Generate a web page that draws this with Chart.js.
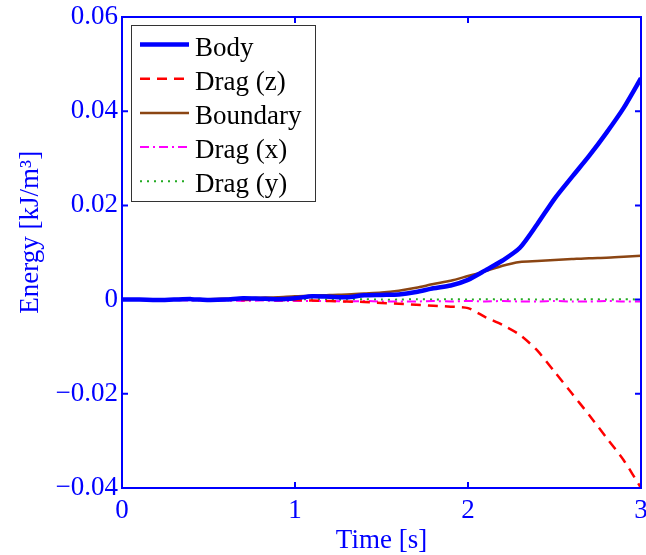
<!DOCTYPE html>
<html>
<head>
<meta charset="utf-8">
<script src="https://cdn.jsdelivr.net/npm/chart.js@4"></script>
<style>
  html, body { margin: 0; padding: 0; background: #fff; }
  #wrap { width: 646px; height: 555px; }
</style>
</head>
<body>
<div id="wrap"><canvas id="energyChart" width="646" height="555"></canvas></div>
<script>
// time samples [s]
const time = [0, 0.1, 0.2, 0.3, 0.4, 0.5, 0.6, 0.7, 0.8, 0.9, 1.0,
              1.1, 1.2, 1.3, 1.4, 1.5, 1.6, 1.7, 1.8, 1.9, 2.0,
              2.1, 2.2, 2.3, 2.4, 2.5, 2.6, 2.7, 2.8, 2.9, 3.0];

// energies [kJ/m^3]
const body = [0, 0, -0.0001, 0, 0.0001, -0.0001, 0, 0.0003, 0.0002, 0.0001, 0.0003,
              0.0007, 0.0006, 0.0005, 0.0009, 0.0010, 0.0011, 0.0016, 0.0024, 0.0030, 0.0042,
              0.0062, 0.0083, 0.0110, 0.0160, 0.0214, 0.0260, 0.0305, 0.0354, 0.0407, 0.0470];
const dragZ = [0, 0, 0, 0, 0, 0, 0, -0.0001, 0, -0.0001, -0.0001,
               -0.0002, -0.0003, -0.0004, -0.0005, -0.0007, -0.0009, -0.0011, -0.0013, -0.0015, -0.0018,
               -0.0037, -0.0054, -0.0075, -0.0108, -0.0153, -0.0199, -0.0245, -0.0293, -0.0341, -0.0400];
const boundary = [0, 0, 0, 0.0001, 0.0001, 0.0001, 0.0002, 0.0003, 0.0004, 0.0005, 0.0007,
                  0.0008, 0.0010, 0.0011, 0.0013, 0.0015, 0.0019, 0.0025, 0.0033, 0.0040, 0.0050,
                  0.0060, 0.0072, 0.0080, 0.0082, 0.0084, 0.0086, 0.0088, 0.0089, 0.0091, 0.0093];
const dragX = [-0.0001, -0.0001, -0.0002, -0.0001, -0.0002, -0.0002, -0.0002, -0.0003, -0.0002, -0.0003, -0.0003,
               -0.0003, -0.0003, -0.0004, -0.0003, -0.0004, -0.0004, -0.0004, -0.0003, -0.0004, -0.0003,
               -0.0004, -0.0003, -0.0004, -0.0004, -0.0003, -0.0004, -0.0004, -0.0003, -0.0004, -0.0004];
const dragY = [0, 0, 0, 0, 0, 0.0001, 0, 0, 0.0001, 0, 0,
               0.0001, 0, 0, 0.0001, 0, 0, 0.0001, 0, 0.0001, 0,
               0.0001, 0, 0.0001, 0, 0.0001, 0, 0.0001, 0, 0.0001, 0];

const xTicks = [0, 1, 2, 3];
const yTicks = [-0.04, -0.02, 0, 0.02, 0.04, 0.06];

const SERIF = "'Liberation Serif', 'Times New Roman', serif";
const AXIS_BLUE = '#0000ff';

function pts(ys) {
  return time.map((t, i) => ({ x: t, y: ys[i] }));
}

function fmtY(v) {
  if (Math.abs(v) < 1e-9) return '0';
  return v.toFixed(2).replace('-', '\u2212');
}

// matlab-ish box: frame all round, ticks pointing inwards, boxed legend
const boxPlugin = {
  id: 'boxPlugin',
  afterDraw(chart) {
    const ctx = chart.ctx;
    const a = chart.chartArea;
    const xs = chart.scales.x, ys = chart.scales.y;
    ctx.save();
    ctx.strokeStyle = AXIS_BLUE;
    ctx.lineWidth = 2;
    ctx.strokeRect(a.left, a.top, a.right - a.left, a.bottom - a.top);
    const tl = 6;
    ctx.beginPath();
    xTicks.forEach(v => {
      const px = xs.getPixelForValue(v);
      ctx.moveTo(px, a.bottom); ctx.lineTo(px, a.bottom - tl);
      ctx.moveTo(px, a.top); ctx.lineTo(px, a.top + tl);
    });
    yTicks.forEach(v => {
      const py = ys.getPixelForValue(v);
      ctx.moveTo(a.left, py); ctx.lineTo(a.left + tl, py);
      ctx.moveTo(a.right, py); ctx.lineTo(a.right - tl, py);
    });
    ctx.stroke();

    // legend
    const lx = 131, ly = 25, lw = 184, lh = 176;
    ctx.fillStyle = '#fff';
    ctx.fillRect(lx, ly, lw, lh);
    ctx.strokeStyle = '#333';
    ctx.lineWidth = 1;
    ctx.strokeRect(lx + 0.5, ly + 0.5, lw, lh);
    ctx.font = '27px ' + SERIF;
    ctx.textBaseline = 'alphabetic';
    ctx.textAlign = 'left';
    chart.data.datasets.forEach((ds, i) => {
      const y = 44.5 + i * 34.2;
      ctx.beginPath();
      ctx.strokeStyle = ds.borderColor;
      ctx.lineWidth = ds.borderWidth;
      ctx.setLineDash(ds.borderDash || []);
      ctx.moveTo(140, y);
      ctx.lineTo(189, y);
      ctx.stroke();
      ctx.setLineDash([]);
      ctx.fillStyle = '#000';
      ctx.fillText(ds.label, 195, y + 11);
    });
    ctx.restore();
  }
};

const ctx = document.getElementById('energyChart').getContext('2d');
const chart = new Chart(ctx, {
  type: 'line',
  data: {
    datasets: [
      { label: 'Body', data: pts(body), borderColor: '#0000ff', borderWidth: 4.5 },
      { label: 'Drag (z)', data: pts(dragZ), borderColor: '#ff0000', borderWidth: 2.5, borderDash: [10, 7] },
      { label: 'Boundary', data: pts(boundary), borderColor: '#8b4513', borderWidth: 2.5 },
      { label: 'Drag (x)', data: pts(dragX), borderColor: '#ff00ff', borderWidth: 2, borderDash: [9, 4, 2, 4] },
      { label: 'Drag (y)', data: pts(dragY), borderColor: '#22aa22', borderWidth: 2, borderDash: [2, 5] }
    ]
  },
  options: {
    responsive: false,
    animation: false,
    devicePixelRatio: 1,
    layout: { padding: { top: 17, right: 5, left: 0, bottom: 0 } },
    elements: { point: { radius: 0 }, line: { tension: 0.25, fill: false } },
    plugins: { legend: { display: false }, tooltip: { enabled: false } },
    scales: {
      x: {
        type: 'linear', min: 0, max: 3,
        afterBuildTicks: s => { s.ticks = xTicks.map(v => ({ value: v })); },
        afterFit: s => { s.height = 67; s.paddingLeft = 0; s.paddingRight = 0; },
        grid: { display: false, drawTicks: false },
        border: { display: false },
        ticks: { color: AXIS_BLUE, padding: 7, font: { family: SERIF, size: 27 }, maxRotation: 0,
                 callback: v => String(v) },
        title: { display: true, text: 'Time [s]', color: AXIS_BLUE,
                 font: { family: SERIF, size: 27, lineHeight: 1 }, padding: { top: 0, bottom: 1 } }
      },
      y: {
        type: 'linear', min: -0.04, max: 0.06,
        afterBuildTicks: s => { s.ticks = yTicks.map(v => ({ value: v })); },
        afterFit: s => { s.width = 122; s.paddingTop = 0; s.paddingBottom = 0; },
        grid: { display: false, drawTicks: false },
        border: { display: false },
        ticks: { color: AXIS_BLUE, padding: 4, font: { family: SERIF, size: 27 }, callback: v => fmtY(v) },
        title: { display: true, text: '\u2003\u2002Energy [kJ/m\u00b3]', color: AXIS_BLUE,
                 font: { family: SERIF, size: 27, lineHeight: 1 }, padding: { top: 17, bottom: 0 } }
      }
    }
  },
  plugins: [boxPlugin]
});
</script>
</body>
</html>
